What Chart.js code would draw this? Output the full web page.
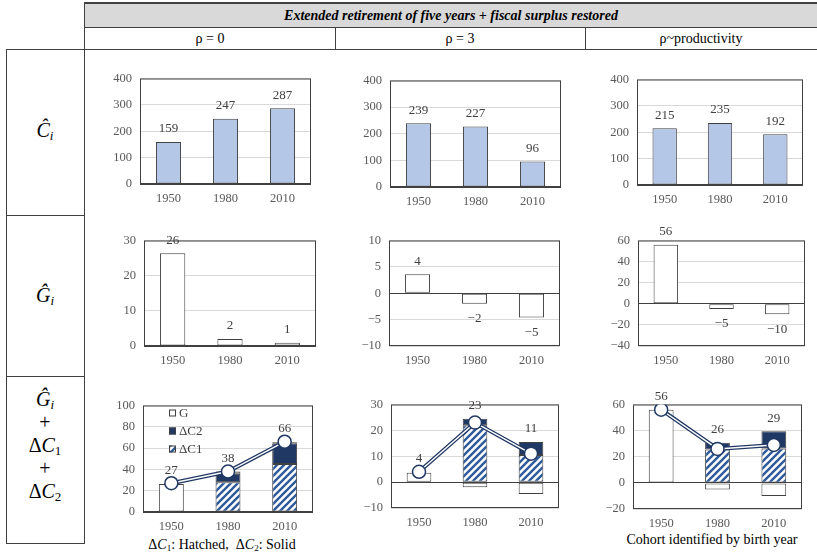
<!DOCTYPE html>
<html>
<head>
<meta charset="utf-8">
<script src="https://cdn.jsdelivr.net/npm/chart.js@4"></script>
<style>
  body { margin: 0; width: 817px; height: 558px; position: relative; overflow: hidden; background: #fff;
         font-family: "Liberation Serif", "Times New Roman", Tinos, "DejaVu Serif", serif; color: #000; }
  .ln { position: absolute; background: #404040; }
  .txt { position: absolute; text-align: center; white-space: nowrap; }
  .hdr { left: 85px; top: 4px; width: 732px; height: 23px; line-height: 23px; background: #d9d9d9;
         font-weight: bold; font-style: italic; font-size: 14px; }
  .col { top: 28px; height: 21px; line-height: 21px; font-size: 14px; }
  .math { left: 6px; width: 78px; font-size: 20px; line-height: 23px; }
  .math i { font-style: italic; }
  .math sub, .cap sub { font-size: 65%; vertical-align: -0.25em; line-height: 0; }
  .cap { font-size: 14px; }
</style>
</head>
<body>
<!-- table frame -->
<div class="ln" style="left:85px;top:2px;width:732px;height:2px"></div>
<div class="txt hdr">Extended retirement of five years + fiscal surplus restored</div>
<div class="ln" style="left:85px;top:27px;width:732px;height:1px"></div>
<div class="ln" style="left:6px;top:49px;width:811px;height:1px"></div>
<div class="ln" style="left:335px;top:28px;width:1px;height:21px"></div>
<div class="ln" style="left:585px;top:28px;width:1px;height:21px"></div>
<div class="ln" style="left:84px;top:2px;width:1px;height:541px"></div>
<div class="ln" style="left:6px;top:49px;width:1px;height:494px"></div>
<div class="ln" style="left:6px;top:215px;width:78px;height:1px"></div>
<div class="ln" style="left:6px;top:376px;width:78px;height:1px"></div>
<div class="ln" style="left:6px;top:543px;width:79px;height:1px"></div>

<div class="txt col" style="left:85px;width:250px">ρ = 0</div>
<div class="txt col" style="left:335px;width:250px">ρ = 3</div>
<div class="txt col" style="left:585px;width:232px">ρ~productivity</div>

<div class="txt math" style="top:119px"><i>Ĉ</i><sub><i>i</i></sub></div>
<div class="txt math" style="top:284px"><i>Ĝ</i><sub><i>i</i></sub></div>
<div class="txt math" style="top:388px"><i>Ĝ</i><sub><i>i</i></sub><br>+<br>Δ<i>C</i><sub>1</sub><br>+<br>Δ<i>C</i><sub>2</sub></div>

<div class="txt cap" style="left:122px;width:200px;top:537px">Δ<i>C</i><sub>1</sub>: Hatched,&nbsp; Δ<i>C</i><sub>2</sub>: Solid</div>
<div class="txt cap" style="left:612px;width:200px;top:532px">Cohort identified by birth year</div>

<script>
// ---- data ----
const years = ['1950', '1980', '2010'];

// row 1: C-hat
const cHatRho0 = [159, 247, 287];
const cHatRho3 = [239, 227, 96];
const cHatProd = [215, 235, 192];

// row 2: G-hat
const gHatRho0 = [26.4, 2, 0.9];
const gHatRho3 = [3.6, -2, -4.6];
const gHatProd = [56, -5, -10];

// row 3: G-hat + dC1 (hatched) + dC2 (solid), line = total
const dC1Rho0 = [0, 28, 45];
const dC2Rho0 = [0, 8, 19.5];
const totalRho0 = [27, 38, 66];
const dC1Rho3 = [0, 22, 10.5];
const dC2Rho3 = [0, 2.5, 5];
const totalRho3 = [4, 23, 11];
const dC1Prod = [0, 25.5, 26.3];
const dC2Prod = [0, 5.3, 13.3];
const totalProd = [56, 26, 29];

// y axis ranges: [min, max, step]
const rangeC = [0, 400, 100];
const rangeGRho0 = [0, 30, 10];
const rangeGRho3 = [-10, 10, 5];
const rangeGProd = [-40, 60, 20];
const rangeSumRho0 = [0, 100, 20];
const rangeSumRho3 = [-10, 30, 10];
const rangeSumProd = [-20, 60, 20];

const legendItems = ['G', 'ΔC2', 'ΔC1'];

// ---- styling ----
const SERIF = '"Liberation Serif", "Times New Roman", Tinos, "DejaVu Serif", serif';
Chart.defaults.font.family = SERIF;
Chart.defaults.font.size = 12.5;
Chart.defaults.color = '#595959';

const NAVY = '#203864';
const BAR_BLUE = '#b4c7e7';
const EDGE = '#404040';

function fmt(v) {
  return v < 0 ? '\u2212' + Math.abs(v) : String(v);
}

// diagonal "/" stripes
function makeHatch() {
  const s = 7;
  const c = document.createElement('canvas');
  c.width = s; c.height = s;
  const g = c.getContext('2d');
  g.fillStyle = '#fff';
  g.fillRect(0, 0, s, s);
  g.strokeStyle = '#2f5b9a';
  g.lineWidth = 2.4;
  g.beginPath();
  g.moveTo(-s, s); g.lineTo(s, -s);
  g.moveTo(0, s); g.lineTo(s, 0);
  g.moveTo(0, 2 * s); g.lineTo(2 * s, 0);
  g.stroke();
  return g.createPattern(c, 'repeat');
}
const hatch = makeHatch();

// box around the plot area
const frame = {
  id: 'frame',
  beforeDatasetsDraw(chart) {
    const { ctx, chartArea: a } = chart;
    ctx.save();
    ctx.strokeStyle = EDGE;
    ctx.lineWidth = 1;
    ctx.strokeRect(a.left + 0.5, a.top + 0.5, a.width - 1, a.height - 1);
    ctx.restore();
  }
};

// numbers above / below bars
const valueLabels = {
  id: 'valueLabels',
  afterDatasetsDraw(chart, args, opts) {
    if (!opts.values) return;
    const { ctx } = chart;
    const y = chart.scales.y;
    ctx.save();
    ctx.font = '13px ' + SERIF;
    ctx.fillStyle = EDGE;
    ctx.textAlign = 'center';
    ctx.textBaseline = 'middle';
    opts.values.forEach((v, i) => {
      const x = chart.getDatasetMeta(0).data[i].x;
      let top = 0, bottom = 0;
      chart.data.datasets.forEach(ds => {
        if (ds.type === 'line') return;
        const d = ds.data[i];
        if (d > 0) top += d; else bottom += d;
      });
      let py;
      if (opts.stacked) {
        py = Math.min(y.getPixelForValue(top), y.getPixelForValue(v)) - 13;
      } else {
        py = v >= 0 ? y.getPixelForValue(top) - 13 : y.getPixelForValue(bottom) + 15;
      }
      ctx.fillText(fmt(Math.round(v)), x, py);
    });
    ctx.restore();
  }
};

// legend drawn inside the plot, top left
const innerLegend = {
  id: 'innerLegend',
  afterDraw(chart, args, opts) {
    if (!opts.items) return;
    const { ctx, chartArea: a } = chart;
    const fills = { 'G': '#fff', 'ΔC2': NAVY, 'ΔC1': hatch };
    ctx.save();
    ctx.font = '13px ' + SERIF;
    ctx.textBaseline = 'middle';
    opts.items.forEach((name, i) => {
      const bx = a.left + 26, by = a.top + 8 + i * 18;
      ctx.fillStyle = fills[name];
      ctx.fillRect(bx, by - 4, 7, 7);
      ctx.strokeStyle = EDGE;
      ctx.lineWidth = 1;
      ctx.strokeRect(bx + 0.5, by - 3.5, 6, 6);
      ctx.fillStyle = EDGE;
      ctx.fillText(name, bx + 10, by);
    });
    ctx.restore();
  }
};

// canvas so that the chart area lands on [x0, y0, x1, y1]
function place(r) {
  const [x0, y0, x1, y1] = r;
  const c = document.createElement('canvas');
  c.width = x1 - x0 + 56;
  c.height = y1 - y0 + 40;
  c.style.cssText = `position:absolute;left:${x0 - 50}px;top:${y0 - 14}px`;
  document.body.appendChild(c);
  return c;
}

function yAxis(range, stacked) {
  return {
    stacked: stacked,
    min: range[0],
    max: range[1],
    ticks: { stepSize: range[2], padding: 8, callback: fmt },
    grid: {
      drawTicks: false,
      color: c => (c.tick && c.tick.value === 0 ? EDGE : '#d9d9d9')
    },
    border: { display: false },
    afterFit: s => { s.width = 50; }
  };
}

function xAxis(stacked) {
  return {
    stacked: stacked,
    grid: { display: false, drawTicks: false },
    border: { display: false },
    ticks: { padding: 7 },
    afterFit: s => { s.height = 26; }
  };
}

function baseOptions(range, stacked, plugins) {
  return {
    responsive: false,
    animation: false,
    layout: { padding: { top: 14, right: 6, left: 0, bottom: 0 } },
    scales: { x: xAxis(stacked), y: yAxis(range, stacked) },
    plugins: Object.assign({ legend: { display: false }, tooltip: { enabled: false } }, plugins)
  };
}

function barChart(rect, values, range, fill) {
  return new Chart(place(rect), {
    type: 'bar',
    data: {
      labels: years,
      datasets: [{
        data: values,
        backgroundColor: fill,
        borderColor: EDGE,
        borderWidth: 1,
        borderSkipped: false,
        barPercentage: 0.44,
        categoryPercentage: 1
      }]
    },
    options: baseOptions(range, false, { valueLabels: { values: values } }),
    plugins: [frame, valueLabels]
  });
}

function sumChart(rect, g, dc1, dc2, total, range, legend) {
  const bar = { type: 'bar', stack: 'bars', order: 3, borderColor: EDGE, borderWidth: 1,
                borderSkipped: false, barPercentage: 0.44, categoryPercentage: 1 };
  return new Chart(place(rect), {
    data: {
      labels: years,
      datasets: [
        Object.assign({ label: 'ΔC1', data: dc1, backgroundColor: hatch }, bar),
        Object.assign({ label: 'ΔC2', data: dc2, backgroundColor: NAVY }, bar),
        Object.assign({ label: 'G', data: g, backgroundColor: '#fff' }, bar),
        { type: 'line', data: total, stack: 'lineOuter', order: 2, borderColor: NAVY,
          borderWidth: 4, pointRadius: 0, tension: 0 },
        { type: 'line', data: total, stack: 'lineInner', order: 1, borderColor: '#fff',
          borderWidth: 1.4, tension: 0, pointRadius: 6.5, pointBackgroundColor: '#fff',
          pointBorderColor: NAVY, pointBorderWidth: 1.5 }
      ]
    },
    options: baseOptions(range, true, {
      valueLabels: { values: total, stacked: true },
      innerLegend: { items: legend }
    }),
    plugins: [frame, valueLabels, innerLegend]
  });
}

// row 1
barChart([140, 77, 311, 184], cHatRho0, rangeC, BAR_BLUE);
barChart([390, 79, 561, 187], cHatRho3, rangeC, BAR_BLUE);
barChart([637, 78, 803, 185], cHatProd, rangeC, BAR_BLUE);

// row 2
barChart([144, 239, 316, 346], gHatRho0, rangeGRho0, '#fff');
barChart([389, 239, 560, 346], gHatRho3, rangeGRho3, '#fff');
barChart([638, 239, 805, 346], gHatProd, rangeGProd, '#fff');

// row 3
sumChart([143, 404, 315, 512], gHatRho0, dC1Rho0, dC2Rho0, totalRho0, rangeSumRho0, legendItems);
sumChart([391, 403, 561, 508], gHatRho3, dC1Rho3, dC2Rho3, totalRho3, rangeSumRho3, null);
sumChart([633, 403, 804, 509], gHatProd, dC1Prod, dC2Prod, totalProd, rangeSumProd, null);
</script>
</body>
</html>
